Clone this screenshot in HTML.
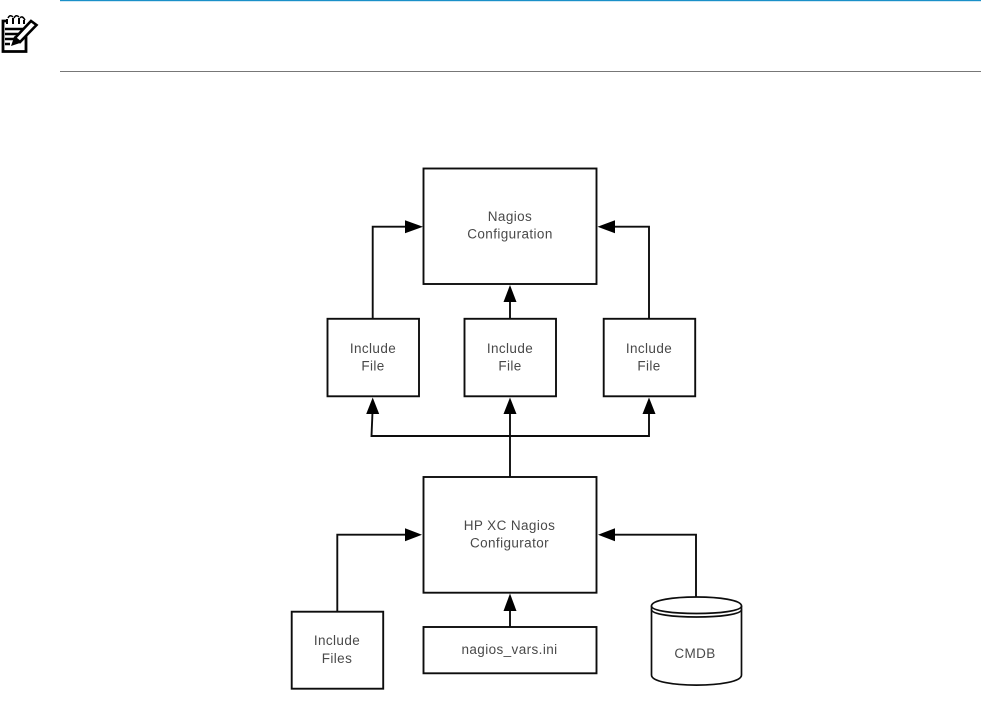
<!DOCTYPE html>
<html>
<head>
<meta charset="utf-8">
<style>
html,body{margin:0;padding:0;background:#fff;width:981px;height:719px;overflow:hidden}
svg{display:block}
text{font-family:"Liberation Sans",sans-serif;font-size:13.5px;letter-spacing:.4px;fill:#4a4a4a;text-anchor:middle}
</style>
</head>
<body>
<svg width="981" height="719" viewBox="0 0 981 719" xmlns="http://www.w3.org/2000/svg">
<defs><filter id="b" x="-5%" y="-5%" width="110%" height="110%"><feGaussianBlur stdDeviation="0.35"/></filter></defs>
<rect x="60" y="0" width="921" height="1.2" fill="#1a90c8"/>
<rect x="60" y="71" width="921" height="1" fill="#777"/>
<!-- note icon -->
<g fill="none" stroke="#000" filter="url(#b)">
<path d="M7 21H3V51.500H26V35" stroke-width="2.800"/>
<path d="M7 24V19M13 24V18M19 24V18M24 24V20" stroke-width="2"/>
<path d="M8 18Q10 14 13 17M14 18Q16 14 19 17M20 18Q22 15 25 20" stroke-width="1.500"/>
<path d="M5 29H23M5 34H19M5 39H15M5 44H10" stroke-width="2.600"/>
<path d="M15 38L31 21L36.500 25L20 42Z" stroke-width="2.600" fill="#fff"/>
<path d="M11 46L14.500 36L21.500 42.500Z" fill="#000" stroke="none"/>
</g>
<g filter="url(#b)">
<g fill="none" stroke="#111" stroke-width="1.900">
<rect x="423.500" y="168.500" width="173" height="115.500"/>
<rect x="327.500" y="318.800" width="91.500" height="77.500"/>
<rect x="464.500" y="318.800" width="91.500" height="77.500"/>
<rect x="603.700" y="318.800" width="91.500" height="77.500"/>
<rect x="423.500" y="477" width="173" height="115.700"/>
<rect x="291.700" y="611.700" width="91.500" height="77"/>
<rect x="423.500" y="627" width="173" height="46.300"/>
<path d="M372.700 318.800V226.700H408M649 318.800V226.700H612M510 318.800V300M510 477V412M372.500 412L371.500 436H649V412M337.300 611.700V534.700H407M696 598V534.700H612M510 627V608"/>
<!-- cylinder -->
<path d="M651.500 606C651.500 594 741.500 594 741.500 606V675C741.500 688.500 651.500 688.500 651.500 675Z" fill="#fff" stroke-width="1.700"/>
<path d="M651.500 606C651.500 616 741.500 616 741.500 606M651.500 609.500C651.500 619.500 741.500 619.500 741.500 609.500" stroke-width="1.700"/>
</g>
<g fill="#000">
<path d="M423 226.700L405 220.200V233.200Z"/>
<path d="M597.500 226.700L615 220.200V233.200Z"/>
<path d="M510 285L503.500 302H516.500Z"/>
<path d="M372.700 397.500L366.200 414H379.200Z"/>
<path d="M510 397.500L503.500 414H516.500Z"/>
<path d="M649 397.500L642.500 414H655.500Z"/>
<path d="M422 534.700L405 528.200V541.200Z"/>
<path d="M598 534.700L615 528.200V541.200Z"/>
<path d="M510 593.500L503.500 611H516.500Z"/>
</g>
<text x="510" y="221">Nagios</text>
<text x="510" y="238.500">Configuration</text>
<text x="373" y="353">Include</text>
<text x="373" y="370.500">File</text>
<text x="510" y="353">Include</text>
<text x="510" y="370.500">File</text>
<text x="649" y="353">Include</text>
<text x="649" y="370.500">File</text>
<text x="509.500" y="530">HP XC Nagios</text>
<text x="509.500" y="547.500">Configurator</text>
<text x="337" y="645">Include</text>
<text x="337" y="663">Files</text>
<text x="509.500" y="654">nagios_vars.ini</text>
<text x="695" y="658">CMDB</text>
</g>
</svg>
</body>
</html>
